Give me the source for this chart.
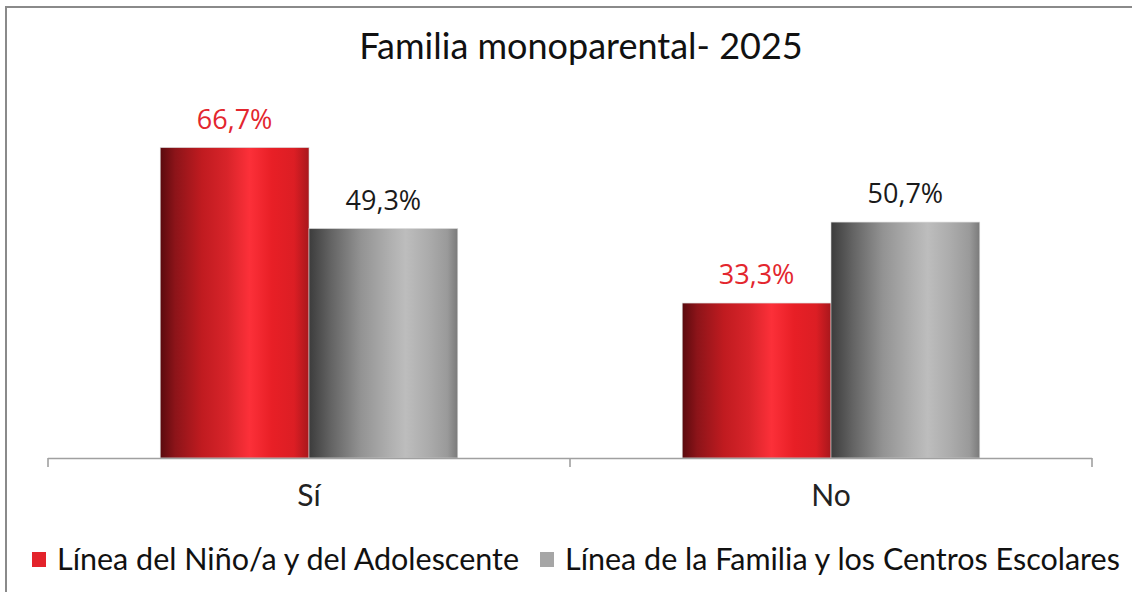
<!DOCTYPE html>
<html>
<head>
<meta charset="utf-8">
<script src="https://cdn.jsdelivr.net/npm/d3@7"></script>
<style>
  html, body { margin: 0; padding: 0; background: #fff; }
  svg { display: block; }
  .title { font-family: Lato, sans-serif; font-size: 36px; fill: #111; }
  .cat { font-family: Lato, sans-serif; font-size: 30px; fill: #222; }
  .legend text { font-family: Lato, sans-serif; font-size: 30.5px; fill: #111; }
  .val { font-family: 'Open Sans', sans-serif; font-size: 27px; }
</style>
</head>
<body>
<div id="chart"></div>
<script>
(function () {
  'use strict';

  // Data
  const categories = ['Sí', 'No'];
  const series = ['Línea del Niño/a y del Adolescente', 'Línea de la Familia y los Centros Escolares'];
  const ninoValues = [66.7, 33.3];
  const familiaValues = [49.3, 50.7];
  const valueLabels = [['66,7%', '33,3%'], ['49,3%', '50,7%']];
  const title = 'Familia monoparental- 2025';

  const width = 1132;
  const height = 592;
  const margin = { top: 132, left: 48, right: 40, bottom: 134 };
  const baseY = height - margin.bottom; // axis line

  const seriesValues = [ninoValues, familiaValues];
  const labelColors = ['#e3262e', '#1a1a1a'];
  const swatchColors = ['#e3232b', '#a6a6a6'];

  const svg = d3
    .select('#chart')
    .append('svg')
    .attr('width', width)
    .attr('height', height);

  // Horizontal "cylinder" gradients, like the spreadsheet fill
  const defs = svg.append('defs');
  const gradStops = [
    [
      [0, '#5a0a0e'], [0.1, '#8c1419'], [0.28, '#c01b20'], [0.45, '#d8242a'],
      [0.6, '#fc3039'], [0.75, '#e81f26'], [0.9, '#dc1e24'], [1, '#a8171c']
    ],
    [
      [0, '#3c3c3c'], [0.15, '#646464'], [0.35, '#939393'], [0.55, '#b0b0b0'],
      [0.65, '#bdbdbd'], [0.8, '#acacac'], [0.93, '#9a9a9a'], [1, '#7a7a7a']
    ]
  ];
  gradStops.forEach((stops, i) => {
    const lg = defs
      .append('linearGradient')
      .attr('id', 'grad' + i)
      .attr('x1', '0%').attr('x2', '100%')
      .attr('y1', '0%').attr('y2', '0%');
    stops.forEach(([o, c]) => lg.append('stop').attr('offset', o).attr('stop-color', c));
  });

  // Outer chart border (only top and left visible in the frame)
  svg
    .append('rect')
    .attr('x', 6)
    .attr('y', 7)
    .attr('width', width + 20)
    .attr('height', height + 20)
    .attr('fill', 'none')
    .attr('stroke', '#8a8a8a')
    .attr('stroke-width', 2);

  // Title
  svg
    .append('text')
    .attr('class', 'title')
    .attr('x', 581)
    .attr('y', 59)
    .attr('text-anchor', 'middle')
    .text(title);

  // Scales
  const x0 = d3
    .scaleBand()
    .domain(categories)
    .range([margin.left, width - margin.right])
    .paddingInner(0.43)
    .paddingOuter(0.215);

  const x1 = d3
    .scaleBand()
    .domain(d3.range(series.length))
    .range([0, x0.bandwidth()]);

  const y = d3
    .scaleLinear()
    .domain([0, 70])
    .range([baseY, baseY - 70 * 4.653]);

  // Bars
  const groups = svg
    .append('g')
    .selectAll('g')
    .data(categories)
    .enter()
    .append('g')
    .attr('transform', (d) => `translate(${x0(d)},0)`);

  groups
    .selectAll('rect')
    .data((d, ci) => series.map((s, si) => ({ si, ci, v: seriesValues[si][ci] })))
    .enter()
    .append('rect')
    .attr('x', (d) => x1(d.si))
    .attr('width', x1.bandwidth())
    .attr('y', (d) => y(d.v))
    .attr('height', (d) => y(0) - y(d.v))
    .attr('fill', (d) => `url(#grad${d.si})`)
    .attr('stroke', '#d6d6d6')
    .attr('stroke-width', 0.6);

  groups
    .selectAll('text')
    .data((d, ci) => series.map((s, si) => ({ si, ci, v: seriesValues[si][ci] })))
    .enter()
    .append('text')
    .attr('class', 'val')
    .attr('x', (d) => x1(d.si) + x1.bandwidth() / 2)
    .attr('y', (d) => y(d.v) - 19)
    .attr('text-anchor', 'middle')
    .attr('fill', (d) => labelColors[d.si])
    .text((d) => valueLabels[d.si][d.ci]);

  // Category axis with ticks at band boundaries
  const axisG = svg.append('g').attr('class', 'axis');
  axisG
    .append('line')
    .attr('x1', margin.left)
    .attr('x2', width - margin.right)
    .attr('y1', baseY + 0.5)
    .attr('y2', baseY + 0.5)
    .attr('stroke', '#a0a0a0')
    .attr('stroke-width', 1.6);

  const step = x0.step();
  const tickXs = d3.range(categories.length + 1).map((i) => margin.left + i * step);
  axisG
    .selectAll('line.tick')
    .data(tickXs)
    .enter()
    .append('line')
    .attr('class', 'tick')
    .attr('x1', (d) => d)
    .attr('x2', (d) => d)
    .attr('y1', baseY)
    .attr('y2', baseY + 9)
    .attr('stroke', '#a0a0a0')
    .attr('stroke-width', 1.6);

  axisG
    .selectAll('text')
    .data(categories)
    .enter()
    .append('text')
    .attr('class', 'cat')
    .attr('x', (d) => x0(d) + x0.bandwidth() / 2)
    .attr('y', baseY + 48)
    .attr('text-anchor', 'middle')
    .text((d) => d);

  // Legend
  const legend = svg.append('g').attr('class', 'legend');
  const legendX = [32, 540];
  series.forEach((s, i) => {
    const item = legend.append('g').attr('transform', `translate(${legendX[i]},552)`);
    item
      .append('rect')
      .attr('width', 14)
      .attr('height', 15)
      .attr('fill', swatchColors[i]);
    item
      .append('text')
      .attr('x', 25)
      .attr('y', 18)
      .text(s);
  });
})();
</script>
</body>
</html>
